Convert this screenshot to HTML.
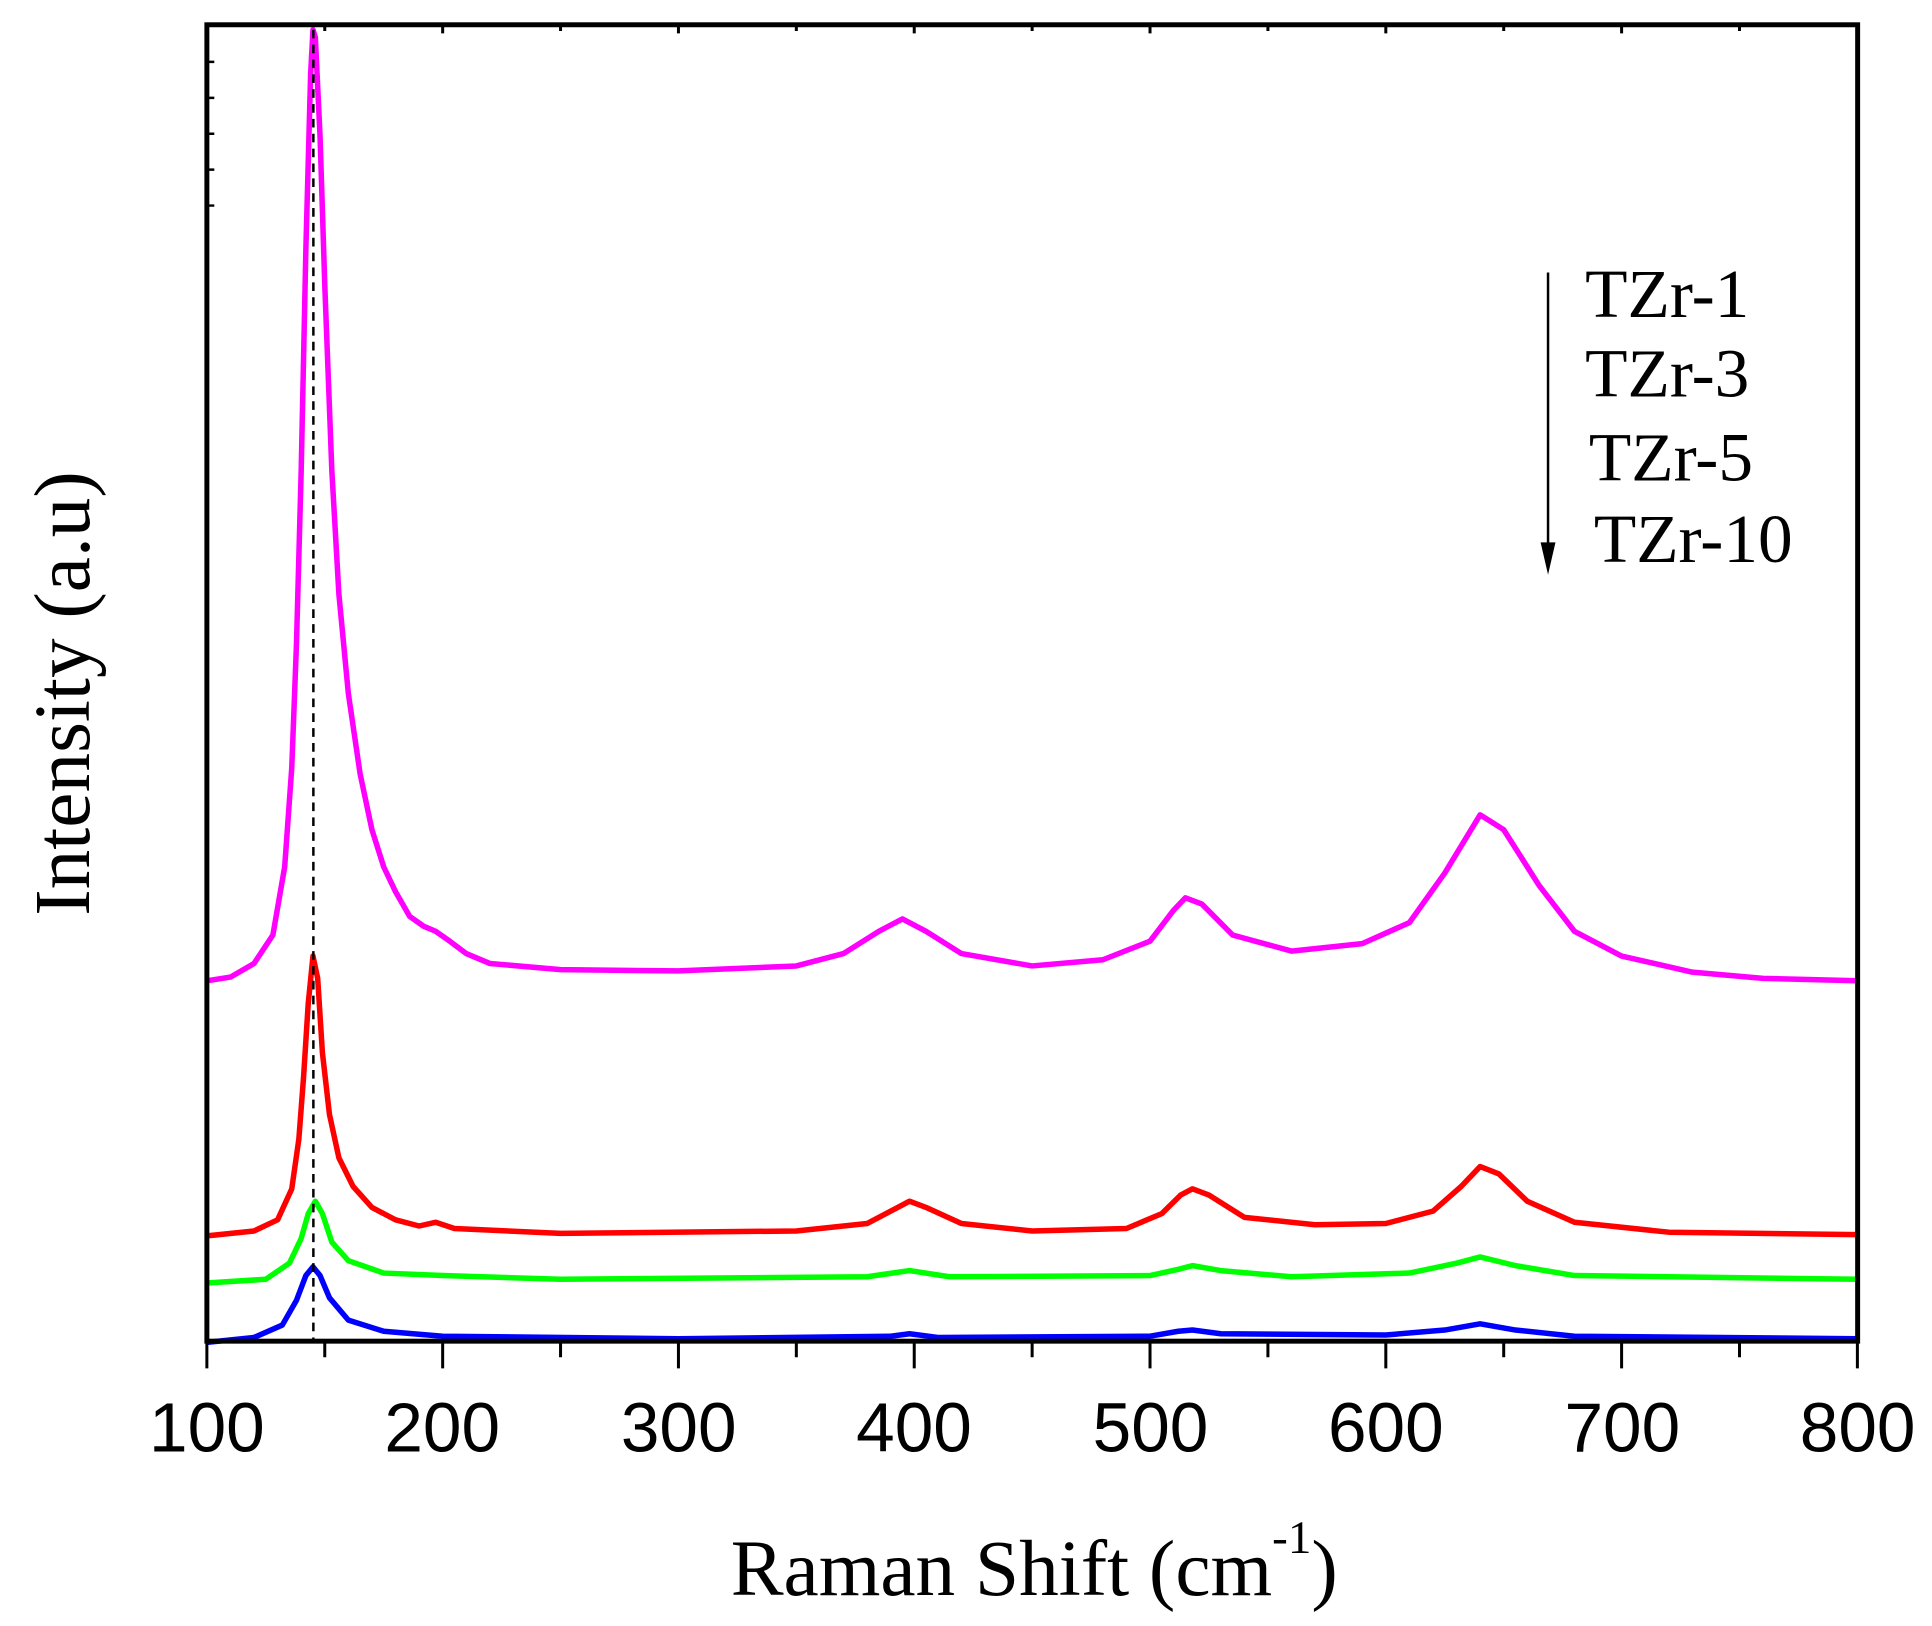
<!DOCTYPE html>
<html><head><meta charset="utf-8"><style>html,body{margin:0;padding:0;background:#fff}svg{display:block}</style></head>
<body>
<svg width="1932" height="1626" viewBox="0 0 1560 1313" xmlns="http://www.w3.org/2000/svg">
<g transform="matrix(1.904 0 0 1 -23.4 0)" fill="none" stroke-linejoin="round">
<path vector-effect="non-scaling-stroke" stroke="#ff00ff" stroke-width="5.5" d="M100 792L110 789L120 778L128 755L133 700L136 620L138 520L140 380L142 200L144 60L145 24L146 30L148 110L150 230L153 380L156 480L160 560L165 625L170 670L175 700L180 720L186 740L192 748L197 752L203 760L210 770L220 778L250 783L300 784L350 780L370 770L385 752L395 742L405 752L420 770L450 780L480 775L500 760L510 735L515 725L522 730L535 755L560 768L590 762L610 745L625 705L640 658L650 670L665 715L680 752L700 772L730 785L760 790L800 792"/>
<path vector-effect="non-scaling-stroke" stroke="#ff0000" stroke-width="5.5" d="M100 998L120 994L130 985L136 960L139 920L141 870L143 810L145 772L147 790L149 850L152 900L156 935L162 958L170 975L180 985L190 990L197 987L205 992L250 996L350 994L380 988L392 976L398 970L405 975L420 988L450 994L490 992L505 980L513 965L518 960L525 965L540 983L570 989L600 988L620 978L632 958L640 942L648 948L660 970L680 987L720 995L800 997"/>
<path vector-effect="non-scaling-stroke" stroke="#00ff00" stroke-width="5.5" d="M100 1036L125 1033L135 1020L140 1000L143 980L146 970L149 980L153 1003L160 1018L175 1028L200 1030L250 1033L380 1031L398 1026L415 1031L500 1030L512 1025L518 1022L530 1026L560 1031L610 1028L630 1020L640 1015L655 1022L680 1030L800 1033"/>
<path vector-effect="non-scaling-stroke" stroke="#0000ff" stroke-width="5.5" d="M100 1084L120 1080L132 1070L138 1050L142 1030L145 1023L148 1030L152 1048L160 1066L175 1075L200 1079L300 1081L390 1079L398 1077L410 1080L500 1079L512 1075L518 1074L530 1077L600 1078L625 1074L640 1069L655 1074L680 1079L800 1081"/>
<path vector-effect="non-scaling-stroke" stroke="#000" stroke-width="3" d="M100 1083V1105M200 1083V1105M300 1083V1105M400 1083V1105M500 1083V1105M600 1083V1105M700 1083V1105M800 1083V1105M150 1083V1096M250 1083V1096M350 1083V1096M450 1083V1096M550 1083V1096M650 1083V1096M750 1083V1096M150 20V25M200 20V27M250 20V25M300 20V27M350 20V25M400 20V27M450 20V25M500 20V27M550 20V25M600 20V27M650 20V25M700 20V27M750 20V25"/>
</g>
<path stroke="#000" stroke-width="2" d="M167 50H173M167 79H173M167 108H173M167 137H173M167 166H173"/>
<line x1="253" y1="24" x2="253" y2="1083" stroke="#000" stroke-width="2" stroke-dasharray="7,5"/>
<rect x="167" y="20" width="1333" height="1063" fill="none" stroke="#000" stroke-width="4"/>
<g font-family="Liberation Sans, sans-serif" font-size="56" text-anchor="middle" fill="#000">
<text x="167" y="1172">100</text><text x="357" y="1172">200</text><text x="548" y="1172">300</text>
<text x="738" y="1172">400</text><text x="929" y="1172">500</text><text x="1119" y="1172">600</text>
<text x="1310" y="1172">700</text><text x="1500" y="1172">800</text>
</g>
<g font-family="Liberation Serif, serif" fill="#000">
<text x="590" y="1288" font-size="64">Raman Shift (cm<tspan font-size="38" dy="-34">-1</tspan><tspan dy="34">)</tspan></text>
<text transform="translate(72,560) rotate(-90)" font-size="64" text-anchor="middle">Intensity (a.u)</text>
<text x="1280" y="256" font-size="56">TZr-1</text>
<text x="1280" y="320" font-size="56">TZr-3</text>
<text x="1283" y="388" font-size="56">TZr-5</text>
<text x="1287" y="454" font-size="56">TZr-10</text>
</g>
<line x1="1250" y1="220" x2="1250" y2="440" stroke="#000" stroke-width="2"/>
<polygon points="1244,438 1256,438 1250,464" fill="#000"/>
</svg>
</body></html>
